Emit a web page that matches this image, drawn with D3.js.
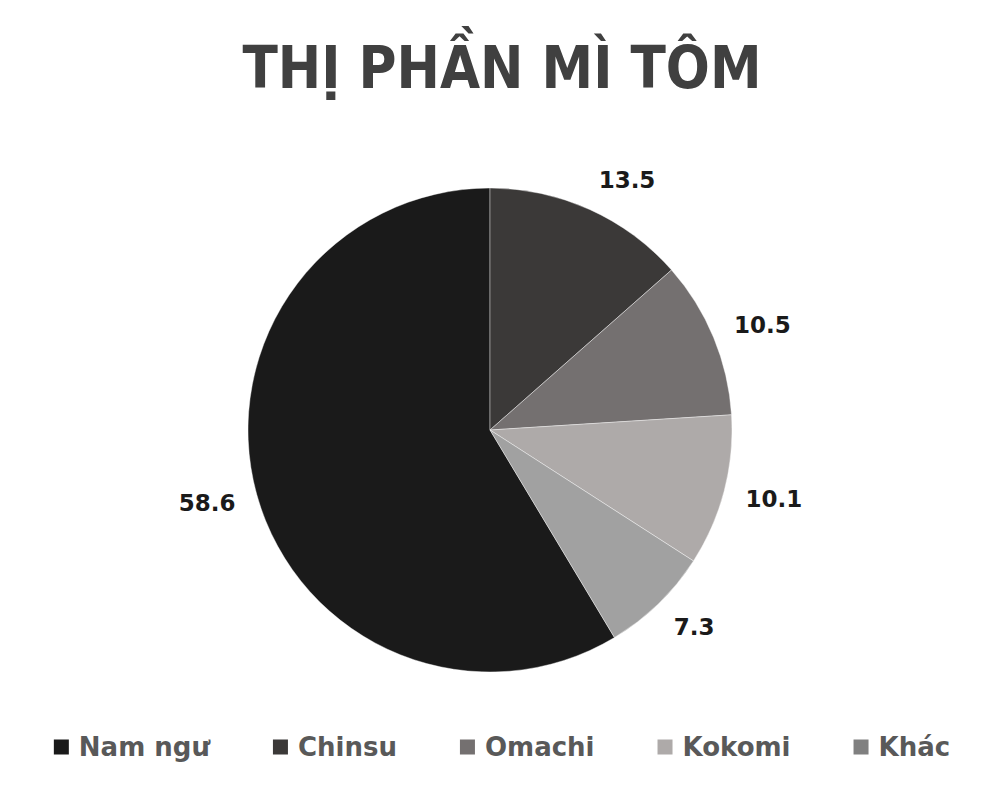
<!DOCTYPE html>
<html>
<head>
<meta charset="utf-8">
<script src="https://cdn.jsdelivr.net/npm/d3@7"></script>
<style>
  body { margin: 0; background: #fff; }
  svg text { font-family: "DejaVu Sans", sans-serif; font-weight: bold; }
</style>
</head>
<body>
<svg id="chart"></svg>
<script>
const title = 'THỊ PHẦN MÌ TÔM';
const categories = ['Nam ngư', 'Chinsu', 'Omachi', 'Kokomi', 'Khác'];
const values = [58.6, 13.5, 10.5, 10.1, 7.3];
const sliceColors = ['#1a1a1a', '#3b3938', '#747070', '#aeaaa9', '#a1a1a1'];
const legendColors = ['#1a1a1a', '#3b3938', '#747070', '#aeaaa9', '#808080'];

const width = 1004, height = 803;
const cx = 490, cy = 430, radius = 242;

const svg = d3.select('#chart')
  .attr('width', width)
  .attr('height', height);

// tieu de
svg.append('text')
  .attr('x', 502)
  .attr('y', 88)
  .attr('text-anchor', 'middle')
  .attr('fill', '#404040')
  .attr('font-size', '59px')
  .attr('textLength', 519)
  .attr('lengthAdjust', 'spacingAndGlyphs')
  .text(title);

const data = categories.map(function(c, i) {
  return { name: c, value: values[i], color: sliceColors[i] };
});

// Nam ngu ket thuc o dinh -> bat dau lui lai
const start = -2 * Math.PI * values[0] / d3.sum(values);
const pie = d3.pie()
  .sort(null)
  .value(function(d) { return d.value; })
  .startAngle(start)
  .endAngle(start + 2 * Math.PI);

const arc = d3.arc().innerRadius(0).outerRadius(radius);

const g = svg.append('g')
  .attr('transform', 'translate(' + cx + ',' + cy + ')');

const arcs = pie(data);

g.selectAll('path')
  .data(arcs)
  .enter()
  .append('path')
  .attr('d', arc)
  .attr('fill', function(d) { return d.data.color; })
  .attr('stroke', '#fff')
  .attr('stroke-opacity', 0.5)
  .attr('stroke-width', 0.8);

// nhan gia tri ngoai mieng
const labelR = radius + 22;
g.selectAll('text.lbl')
  .data(arcs)
  .enter()
  .append('text')
  .attr('class', 'lbl')
  .attr('fill', '#1a1a1a')
  .attr('font-size', '23px')
  .attr('text-anchor', 'middle')
  .attr('dominant-baseline', 'central')
  .text(function(d) { return d.data.value; })
  .each(function(d) {
    const box = this.getBBox();
    const a = (d.startAngle + d.endAngle) / 2;
    const ux = Math.sin(a), uy = -Math.cos(a);
    const x = labelR * ux + box.width / 2 * Math.sign(ux);
    const y = labelR * uy + box.height / 2 * 0.8 * uy;
    d3.select(this).attr('x', x).attr('y', y);
  });

// chu giai
const legend = svg.append('g');
const sq = 15, gapText = 10, gapItem = 63;
let lx = 0;
categories.forEach(function(c, i) {
  const item = legend.append('g').attr('transform', 'translate(' + lx + ',0)');
  item.append('rect')
    .attr('x', 0)
    .attr('y', -sq / 2)
    .attr('width', sq)
    .attr('height', sq)
    .attr('fill', legendColors[i]);
  const t = item.append('text')
    .attr('x', sq + gapText)
    .attr('y', 0)
    .attr('dy', '0.36em')
    .attr('fill', '#595959')
    .attr('font-size', '26px')
    .text(c);
  lx += sq + gapText + t.node().getComputedTextLength() + gapItem;
});
const legendW = lx - gapItem;
legend.attr('transform', 'translate(' + (502 - legendW / 2) + ',747)');
</script>
</body>
</html>
